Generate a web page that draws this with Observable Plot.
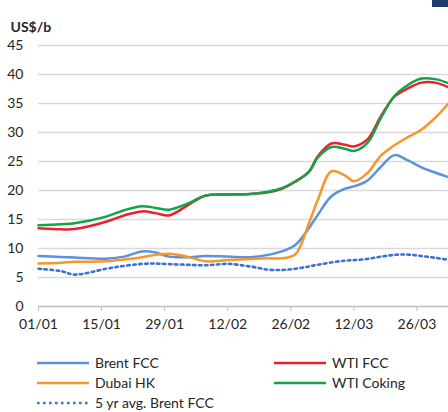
<!DOCTYPE html>
<html>
<head>
<meta charset="utf-8">
<script src="https://cdn.jsdelivr.net/npm/d3@7"></script>
<script src="https://cdn.jsdelivr.net/npm/@observablehq/plot@0.6"></script>
<style>
  html, body { margin: 0; padding: 0; background: #fff; }
  #wrap { position: relative; width: 448px; height: 412px; overflow: hidden; font-family: Lato, "Open Sans", sans-serif; color: #262626; }
  .leg { position: absolute; height: 20px; line-height: 20px; font-size: 14px; white-space: nowrap; }
  .sw { position: absolute; }
  #corner { position: absolute; left: 432px; top: 0; width: 16px; height: 7px; background: #1f3d6e; }
</style>
</head>
<body>
<div id="wrap"><div id="corner"></div></div>
<script>
const dates = ["2022-01-01","2022-01-06","2022-01-09","2022-01-16","2022-01-20","2022-01-24","2022-01-27","2022-01-30","2022-02-03","2022-02-07","2022-02-12","2022-02-17","2022-02-21","2022-02-24","2022-02-27","2022-03-02","2022-03-04","2022-03-07","2022-03-10","2022-03-12","2022-03-15","2022-03-18","2022-03-21","2022-03-24","2022-03-27","2022-03-30","2022-04-02"];
const brentFCC  = [8.7, 8.55, 8.45, 8.25, 8.6, 9.5, 9.3, 8.6, 8.5, 8.7, 8.6, 8.5, 8.9, 9.5, 10.6, 13.5, 15.8, 19.0, 20.3, 20.7, 21.7, 24.1, 26.1, 25.2, 24.0, 23.1, 22.3];
const dubaiHK   = [7.4, 7.55, 7.7, 7.8, 8.1, 8.5, 8.9, 9.1, 8.6, 7.8, 8.0, 8.2, 8.3, 8.3, 9.0, 14.3, 18.4, 23.3, 22.6, 21.6, 23.0, 26.0, 27.8, 29.2, 30.5, 32.5, 35.0];
const wtiFCC    = [13.5, 13.3, 13.35, 14.6, 15.7, 16.4, 16.1, 15.7, 17.4, 19.1, 19.3, 19.4, 19.7, 20.3, 21.5, 23.2, 25.9, 28.1, 27.9, 27.6, 28.8, 32.8, 36.2, 37.6, 38.6, 38.6, 37.8];
const wtiCoking = [14.0, 14.2, 14.35, 15.5, 16.6, 17.3, 17.0, 16.7, 17.7, 19.1, 19.3, 19.4, 19.8, 20.4, 21.6, 23.2, 25.7, 27.5, 27.2, 26.8, 28.2, 32.5, 36.3, 38.2, 39.3, 39.2, 38.5];
const fiveYrAvgBrentFCC = [6.5, 6.1, 5.5, 6.5, 7.0, 7.35, 7.4, 7.3, 7.2, 7.1, 7.35, 6.9, 6.35, 6.3, 6.5, 6.9, 7.2, 7.6, 7.9, 8.0, 8.2, 8.6, 8.9, 8.95, 8.7, 8.4, 8.05];
const xTickDates = ["2022-01-01","2022-01-15","2022-01-29","2022-02-12","2022-02-26","2022-03-12","2022-03-26"];
const yTicks = [0, 5, 10, 15, 20, 25, 30, 35, 40, 45];
const unitLabel = "US$/b";

const series = [
  {name: "5 yr avg. Brent FCC", values: fiveYrAvgBrentFCC, color: "#3a72d4", dash: "2.6 3.4", col: 0, row: 2},
  {name: "Brent FCC", values: brentFCC, color: "#5b92dc", dash: null, col: 0, row: 0},
  {name: "Dubai HK", values: dubaiHK, color: "#f7962a", dash: null, col: 0, row: 1},
  {name: "WTI FCC", values: wtiFCC, color: "#e8212d", dash: null, col: 1, row: 0},
  {name: "WTI Coking", values: wtiCoking, color: "#12a34b", dash: null, col: 1, row: 1}
];

const parse = d3.utcParse("%Y-%m-%d");
const toRows = vals => dates.map((d, i) => ({date: parse(d), value: vals[i]}));

const lineMarks = series.map(s => Plot.line(toRows(s.values), {
  x: "date", y: "value", stroke: s.color, strokeWidth: s.dash ? 2.6 : 2.5,
  strokeDasharray: s.dash || undefined, curve: "catmull-rom"
}));

const chart = Plot.plot({
  width: 448, height: 340,
  marginLeft: 38, marginRight: 0, marginTop: 45, marginBottom: 34,
  style: {fontFamily: "Lato, 'Open Sans', sans-serif", fontSize: "14px", color: "#262626", background: "transparent"},
  x: {type: "utc", domain: [parse("2022-01-01"), parse("2022-04-02")]},
  y: {domain: [0, 45]},
  marks: [
    Plot.gridY(yTicks.filter(t => t > 0), {stroke: "#d9d9d9", strokeOpacity: 1, strokeWidth: 1.3}),
    Plot.axisY({ticks: yTicks, tickSize: 0, tickPadding: 15, label: null, fontSize: 14}),
    Plot.axisX({ticks: xTickDates.map(parse), tickFormat: d3.utcFormat("%d/%m"), tickSize: 5, tickPadding: 8, stroke: "#bfbfbf", label: null, fontSize: 14}),
    Plot.ruleY([0], {stroke: "#bfbfbf", strokeWidth: 1.3}),
    ...lineMarks,
    Plot.text([unitLabel], {frameAnchor: "top-left", dx: -28, dy: -23, textAnchor: "start", fontWeight: "bold", fontSize: 14, fill: "#262626"})
  ]
});
chart.style.position = "absolute";
chart.style.left = "0px";
chart.style.top = "0px";
const wrap = document.getElementById("wrap");
wrap.appendChild(chart);

// legend
const colX = [{sw: 37, txt: 95}, {sw: 274, txt: 332}];
const rowY = [363, 383, 403];
series.forEach(s => {
  const c = colX[s.col], y = rowY[s.row];
  const ns = "http://www.w3.org/2000/svg";
  const sv = document.createElementNS(ns, "svg");
  sv.setAttribute("width", 54); sv.setAttribute("height", 8);
  sv.setAttribute("class", "sw");
  sv.style.left = c.sw + "px"; sv.style.top = (y - 4) + "px";
  const ln = document.createElementNS(ns, "line");
  ln.setAttribute("x1", 0); ln.setAttribute("x2", 52); ln.setAttribute("y1", 4); ln.setAttribute("y2", 4);
  ln.setAttribute("stroke", s.color); ln.setAttribute("stroke-width", s.dash ? 2.6 : 2.5);
  if (s.dash) ln.setAttribute("stroke-dasharray", s.dash);
  sv.appendChild(ln);
  wrap.appendChild(sv);
  const t = document.createElement("div");
  t.className = "leg";
  t.style.left = c.txt + "px"; t.style.top = (y - 10) + "px";
  t.textContent = s.name;
  wrap.appendChild(t);
});
</script>
</body>
</html>
